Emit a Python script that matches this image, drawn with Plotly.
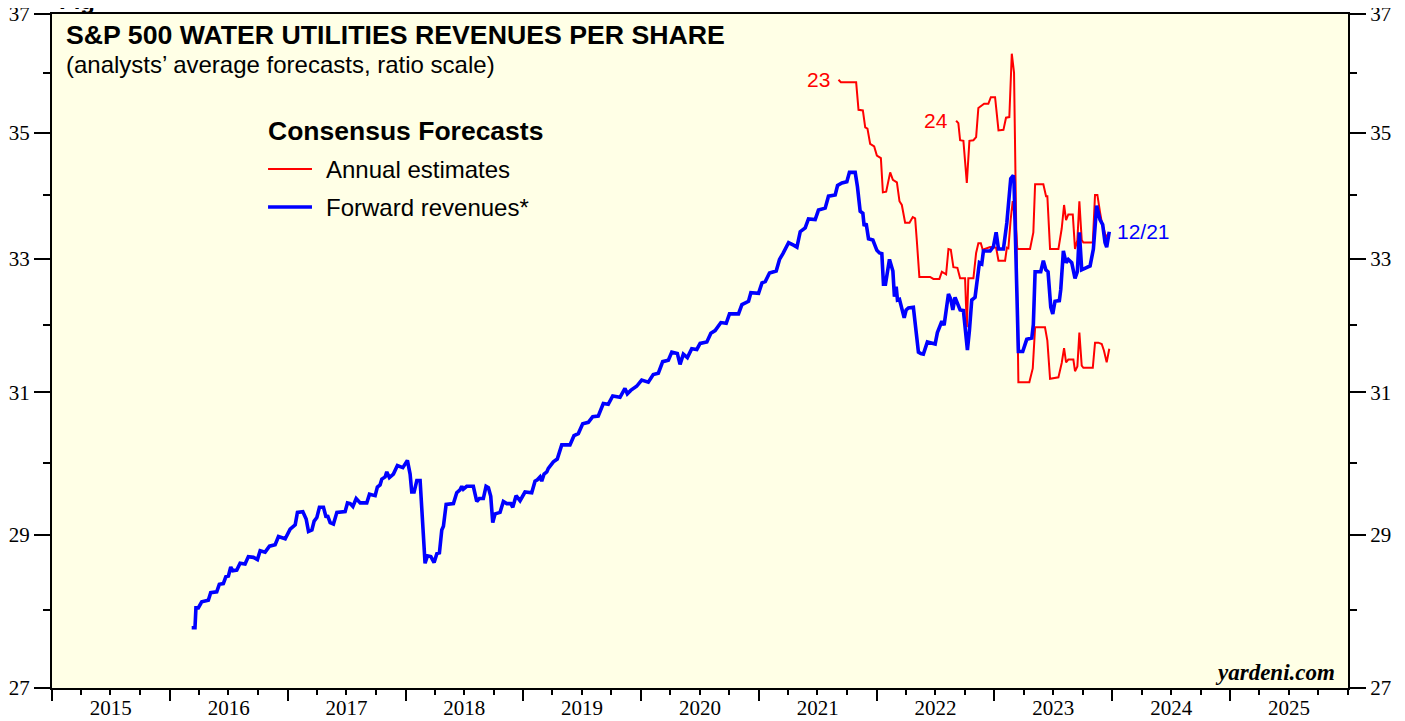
import math

import pandas as pd
import plotly.graph_objects as go

# forward revenues (blue), time in decimal years
fwd_t = [
    2016.186, 2016.214, 2016.222, 2016.242, 2016.271, 2016.327, 2016.347, 2016.398, 2016.420, 2016.454,
    2016.475, 2016.497, 2016.517, 2016.534, 2016.568, 2016.596, 2016.638, 2016.666, 2016.709, 2016.743,
    2016.766, 2016.808, 2016.845, 2016.893, 2016.921, 2016.978, 2017.020, 2017.063, 2017.082, 2017.128,
    2017.156, 2017.176, 2017.205, 2017.224, 2017.247, 2017.269, 2017.303, 2017.326, 2017.337, 2017.360,
    2017.388, 2017.417, 2017.487, 2017.507, 2017.530, 2017.553, 2017.581, 2017.615, 2017.671, 2017.694,
    2017.742, 2017.761, 2017.784, 2017.799, 2017.827, 2017.841, 2017.863, 2017.897, 2017.931, 2017.977,
    2018.016, 2018.039, 2018.053, 2018.073, 2018.096, 2018.124, 2018.166, 2018.186, 2018.215, 2018.243,
    2018.266, 2018.288, 2018.308, 2018.322, 2018.345, 2018.407, 2018.435, 2018.463, 2018.478, 2018.491,
    2018.520, 2018.576, 2018.605, 2018.627, 2018.661, 2018.684, 2018.704, 2018.724, 2018.741, 2018.761,
    2018.803, 2018.831, 2018.860, 2018.894, 2018.911, 2018.939, 2018.973, 2019.015, 2019.072, 2019.100,
    2019.120, 2019.143, 2019.157, 2019.177, 2019.200, 2019.213, 2019.256, 2019.289, 2019.327, 2019.397,
    2019.431, 2019.468, 2019.505, 2019.553, 2019.590, 2019.637, 2019.680, 2019.722, 2019.760, 2019.822,
    2019.864, 2019.884, 2019.913, 2019.963, 2020.006, 2020.062, 2020.104, 2020.147, 2020.184, 2020.232,
    2020.261, 2020.308, 2020.331, 2020.359, 2020.393, 2020.430, 2020.473, 2020.501, 2020.558, 2020.592,
    2020.628, 2020.677, 2020.722, 2020.750, 2020.826, 2020.855, 2020.911, 2020.931, 2020.996, 2021.025,
    2021.053, 2021.089, 2021.146, 2021.174, 2021.203, 2021.251, 2021.293, 2021.322, 2021.350, 2021.392,
    2021.420, 2021.477, 2021.505, 2021.562, 2021.590, 2021.647, 2021.667, 2021.704, 2021.746, 2021.768,
    2021.817, 2021.836, 2021.859, 2021.882, 2021.893, 2021.910, 2021.930, 2021.967, 2022.001, 2022.023,
    2022.043, 2022.057, 2022.074, 2022.108, 2022.137, 2022.150, 2022.165, 2022.176, 2022.193, 2022.233,
    2022.250, 2022.269, 2022.311, 2022.354, 2022.374, 2022.396, 2022.430, 2022.468, 2022.496, 2022.515,
    2022.553, 2022.572, 2022.589, 2022.609, 2022.629, 2022.646, 2022.665, 2022.708, 2022.736, 2022.750,
    2022.770, 2022.787, 2022.807, 2022.835, 2022.850, 2022.872, 2022.892, 2022.906, 2022.963, 2022.991,
    2023.014, 2023.034, 2023.076, 2023.105, 2023.138, 2023.160, 2023.166, 2023.203, 2023.240, 2023.274,
    2023.317, 2023.330, 2023.345, 2023.393, 2023.415, 2023.436, 2023.455, 2023.478, 2023.495, 2023.514,
    2023.551, 2023.563, 2023.585, 2023.608, 2023.627, 2023.656, 2023.684, 2023.704, 2023.721, 2023.741,
    2023.812, 2023.840, 2023.868, 2023.896, 2023.919, 2023.939, 2023.953, 2023.975,
]
fwd_v = [
    27.77, 27.77, 28.03, 28.03, 28.11, 28.13, 28.23, 28.24, 28.34, 28.35,
    28.44, 28.45, 28.57, 28.52, 28.53, 28.62, 28.61, 28.71, 28.70, 28.67,
    28.79, 28.77, 28.85, 28.87, 28.98, 28.95, 29.08, 29.14, 29.31, 29.32,
    29.22, 29.05, 29.07, 29.19, 29.24, 29.38, 29.38, 29.24, 29.27, 29.17,
    29.15, 29.31, 29.32, 29.44, 29.43, 29.39, 29.50, 29.44, 29.44, 29.56,
    29.54, 29.66, 29.69, 29.77, 29.80, 29.87, 29.79, 29.84, 29.96, 29.93,
    30.03, 29.84, 29.59, 29.59, 29.75, 29.75, 28.62, 28.72, 28.71, 28.63,
    28.75, 28.76, 29.07, 29.12, 29.42, 29.43, 29.58, 29.62, 29.67, 29.63,
    29.67, 29.67, 29.46, 29.50, 29.50, 29.67, 29.65, 29.53, 29.17, 29.29,
    29.31, 29.46, 29.43, 29.43, 29.38, 29.54, 29.47, 29.59, 29.58, 29.74,
    29.76, 29.80, 29.74, 29.84, 29.87, 29.92, 30.01, 30.05, 30.25, 30.25,
    30.38, 30.41, 30.55, 30.57, 30.65, 30.66, 30.84, 30.83, 30.95, 30.93,
    31.06, 30.98, 31.03, 31.09, 31.18, 31.15, 31.26, 31.28, 31.45, 31.47,
    31.59, 31.57, 31.41, 31.56, 31.51, 31.64, 31.63, 31.72, 31.74, 31.87,
    31.91, 32.03, 32.02, 32.16, 32.16, 32.30, 32.35, 32.48, 32.47, 32.63,
    32.65, 32.78, 32.81, 32.99, 33.08, 33.25, 33.21, 33.18, 33.42, 33.48,
    33.62, 33.61, 33.76, 33.79, 33.98, 34.00, 34.15, 34.19, 34.21, 34.36,
    34.36, 34.13, 33.74, 33.71, 33.51, 33.55, 33.31, 33.29, 33.13, 33.09,
    33.08, 32.61, 32.61, 32.99, 32.81, 32.42, 32.57, 32.37, 32.38, 32.10,
    32.22, 32.25, 32.26, 31.59, 31.57, 31.56, 31.74, 31.73, 31.71, 31.88,
    32.05, 31.99, 32.20, 32.46, 32.38, 32.22, 32.41, 32.22, 32.21, 32.00,
    31.62, 31.91, 32.37, 32.41, 32.68, 32.94, 32.92, 33.12, 33.12, 33.19,
    33.41, 33.15, 33.15, 33.56, 34.26, 34.31, 34.20, 31.60, 31.60, 31.78,
    31.80, 32.00, 32.80, 32.80, 32.97, 32.83, 32.80, 32.26, 32.16, 32.35,
    32.36, 32.53, 33.12, 32.94, 32.99, 32.94, 32.70, 32.80, 33.41, 32.83,
    32.89, 33.15, 33.83, 33.61, 33.53, 33.25, 33.18, 33.42,
]

# annual estimate for 2023 (red)
est23_t = [
    2021.675, 2021.695, 2021.825, 2021.845, 2021.882, 2021.902, 2021.921, 2021.944, 2021.978, 2022.001,
    2022.035, 2022.052, 2022.080, 2022.114, 2022.137, 2022.171, 2022.193, 2022.213, 2022.241, 2022.278,
    2022.306, 2022.326, 2022.340, 2022.362, 2022.453, 2022.481, 2022.532, 2022.553, 2022.589, 2022.609,
    2022.629, 2022.651, 2022.685, 2022.708, 2022.750, 2022.765, 2022.778, 2022.821, 2022.844, 2022.863,
    2022.884, 2022.900, 2022.963, 2023.014, 2023.034, 2023.090, 2023.105, 2023.118, 2023.138, 2023.155,
    2023.166, 2023.183, 2023.194, 2023.302, 2023.330, 2023.345, 2023.415, 2023.438, 2023.449, 2023.472,
    2023.543, 2023.571, 2023.591, 2023.608, 2023.627, 2023.665, 2023.684, 2023.704, 2023.721, 2023.741,
    2023.755, 2023.835, 2023.854, 2023.874, 2023.896, 2023.911, 2023.930, 2023.947, 2023.967,
]
est23_v = [
    35.88, 35.84, 35.84, 35.38, 35.37, 35.09, 35.07, 34.82, 34.78, 34.63,
    34.59, 34.04, 34.05, 34.36, 34.24, 34.20, 33.90, 33.84, 33.56, 33.56,
    33.65, 33.63, 33.29, 32.72, 32.72, 32.69, 32.69, 32.80, 32.76, 33.15,
    33.14, 32.87, 32.86, 32.70, 32.70, 31.96, 32.70, 32.70, 33.09, 33.24,
    33.24, 33.14, 33.18, 33.17, 32.97, 32.97, 33.17, 33.16, 33.62, 33.90,
    33.73, 33.45, 33.15, 33.15, 33.41, 34.17, 34.17, 33.98, 33.98, 33.15,
    33.15, 33.47, 33.84, 33.60, 33.69, 33.69, 33.15, 33.29, 33.90, 33.29,
    33.25, 33.25, 34.00, 34.00, 33.73, 33.57, 33.45, 33.33, 33.39,
]

# annual estimate for 2024 (red)
est24_t = [
    2022.674, 2022.693, 2022.708, 2022.736, 2022.765, 2022.787, 2022.821, 2022.844, 2022.863, 2022.884,
    2022.912, 2022.948, 2022.969, 2023.005, 2023.034, 2023.076, 2023.098, 2023.126, 2023.147, 2023.166,
    2023.203, 2023.296, 2023.325, 2023.345, 2023.429, 2023.449, 2023.472, 2023.543, 2023.571, 2023.591,
    2023.608, 2023.627, 2023.670, 2023.684, 2023.704, 2023.721, 2023.741, 2023.755, 2023.835, 2023.854,
    2023.882, 2023.911, 2023.930, 2023.953, 2023.975,
]
est24_v = [
    35.20, 35.16, 34.88, 34.87, 34.19, 34.87, 34.88, 34.93, 35.41, 35.44,
    35.48, 35.48, 35.59, 35.59, 35.04, 35.05, 35.25, 35.26, 36.32, 36.00,
    31.15, 31.15, 31.35, 31.96, 31.96, 31.76, 31.20, 31.22, 31.43, 31.65,
    31.44, 31.48, 31.48, 31.31, 31.38, 31.88, 31.39, 31.36, 31.36, 31.73,
    31.73, 31.71, 31.61, 31.44, 31.64,
]

years = list(range(2015, 2026))
y_major = [27, 29, 31, 33, 35, 37]
y_minor = [28, 30, 32, 34, 36]
# a hair of slack so the 27 and 37 end ticks are kept
Y_RANGE = [math.log10(27) - 1e-5, math.log10(37) + 1e-5]
X_RANGE = ["2015-01-01", "2026-01-01"]


def to_dates(vals):
    out = []
    for y in vals:
        yr = int(y)
        start = pd.Timestamp(yr, 1, 1)
        days = (pd.Timestamp(yr + 1, 1, 1) - start).days
        out.append((start + pd.Timedelta(days=round((y - yr) * days, 3))).strftime("%Y-%m-%d %H:%M"))
    return out


SANS = "Liberation Sans, Arial, sans-serif"
SERIF = "Liberation Serif, Times New Roman, serif"
RED = "#FF0000"
BLUE = "#0000FF"

fig = go.Figure()
fig.add_trace(go.Scatter(x=to_dates(est23_t), y=est23_v, mode="lines",
                         line=dict(color=RED, width=2)))
fig.add_trace(go.Scatter(x=to_dates(est24_t), y=est24_v, mode="lines",
                         line=dict(color=RED, width=2)))
fig.add_trace(go.Scatter(x=to_dates(fwd_t), y=fwd_v, mode="lines",
                         line=dict(color=BLUE, width=3.6)))

# invisible traces so the extra tick axes get drawn
for xa, ya in [("x2", "y"), ("x3", "y"), ("x", "y2"), ("x", "y3"), ("x", "y4")]:
    fig.add_trace(go.Scatter(x=[X_RANGE[0]], y=[30], xaxis=xa, yaxis=ya, mode="markers",
                             marker=dict(size=1, opacity=0)))

xbase = dict(type="date", range=X_RANGE, autorange=False, showgrid=False, zeroline=False,
             automargin=False, showline=False, tickcolor="black", tickwidth=2,
             tickfont=dict(family=SERIF, size=21, color="black"))
# year labels sit mid-year
xlab = dict(xbase, tickmode="array", tickvals=[f"{y}-07-02" for y in years],
            ticktext=[str(y) for y in years], ticks="", ticklen=0,
            showline=True, mirror=True, linecolor="black", linewidth=2)
xyear = dict(xbase, overlaying="x", tickmode="array", tickvals=[f"{y}-01-01" for y in years],
             ticktext=[""] * len(years), ticks="outside", ticklen=12, side="bottom")
xqtr = dict(xbase, overlaying="x", tick0="2015-01-01", dtick="M3",
            ticks="outside", ticklen=6, side="bottom", showticklabels=False)


def yaxis(side, vals, ticklen, labels, **extra):
    d = dict(
        type="log", range=Y_RANGE, autorange=False, side=side,
        tickmode="array", tickvals=vals,
        ticktext=[str(v) for v in vals] if labels else [""] * len(vals),
        ticks="outside", ticklen=ticklen, tickwidth=1.5, tickcolor="black",
        ticklabeloverflow="allow",
        showgrid=False, zeroline=False, automargin=False,
        showline=True, linecolor="black", linewidth=2,
        tickfont=dict(family=SERIF, size=21, color="black"),
    )
    d.update(extra)
    return d


# the page body adds an 8px offset, so the figure is 8px smaller and margins shifted
fig.update_layout(
    width=1397, height=713,
    margin=dict(l=44, r=57, t=6, b=33),
    paper_bgcolor="white", plot_bgcolor="#FFFFE6",
    showlegend=False, hovermode=False,
    xaxis=xlab, xaxis2=xyear, xaxis3=xqtr,
    yaxis=yaxis("left", y_major, 16, True),
    yaxis2=yaxis("left", y_minor, 7, False, overlaying="y"),
    yaxis3=yaxis("right", y_major, 16, True, overlaying="y"),
    yaxis4=yaxis("right", y_minor, 7, False, overlaying="y"),
)

ann = [
    dict(text="<b>Fig</b>", x=0.0039, y=0.997, xanchor="left", yanchor="bottom",
         font=dict(family=SANS, size=24, color="black")),
    dict(text="<b>S&P 500 WATER UTILITIES REVENUES PER SHARE</b>", x=0.0093, y=0.9688,
         xanchor="left", yanchor="middle", font=dict(family=SANS, size=26.7, color="black")),
    dict(text="(analysts’ average forecasts, ratio scale)", x=0.0093, y=0.9258,
         xanchor="left", yanchor="middle", font=dict(family=SANS, size=24, color="black")),
    dict(text="<b>Consensus Forecasts</b>", x=0.1652, y=0.8264,
         xanchor="left", yanchor="middle", font=dict(family=SANS, size=26.5, color="black")),
    dict(text="Annual estimates", x=0.2099, y=0.770,
         xanchor="left", yanchor="middle", font=dict(family=SANS, size=24, color="black")),
    dict(text="Forward revenues*", x=0.2099, y=0.7136,
         xanchor="left", yanchor="middle", font=dict(family=SANS, size=24, color="black")),
    dict(text="<b><i>yardeni.com</i></b>", x=0.9915, y=0.0237,
         xanchor="right", yanchor="middle", font=dict(family=SERIF, size=23, color="black")),
]
for a in ann:
    a["xref"] = "paper"
    a["yref"] = "paper"
    a["showarrow"] = False
    fig.add_annotation(**a)

# series labels at the line ends (annotation y on a log axis is log10)
fig.add_annotation(x=to_dates(est23_t[:1])[0], y=math.log10(est23_v[0]), xref="x", yref="y",
                   text="23", showarrow=False, xanchor="right", xshift=-6,
                   font=dict(family=SANS, size=21, color=RED))
fig.add_annotation(x=to_dates(est24_t[:1])[0], y=math.log10(est24_v[0]), xref="x", yref="y",
                   text="24", showarrow=False, xanchor="right", xshift=-6,
                   font=dict(family=SANS, size=21, color=RED))
fig.add_annotation(x=to_dates(fwd_t[-1:])[0], y=math.log10(fwd_v[-1]), xref="x", yref="y",
                   text="12/21", showarrow=False, xanchor="left", xshift=6,
                   font=dict(family=SANS, size=21, color=BLUE))

# legend line samples
fig.add_shape(type="line", xref="paper", yref="paper", x0=0.1667, x1=0.2006, y0=0.770, y1=0.770,
              line=dict(color=RED, width=2))
fig.add_shape(type="line", xref="paper", yref="paper", x0=0.1667, x1=0.2006, y0=0.7136, y1=0.7136,
              line=dict(color=BLUE, width=3.6))

fig.write_html("out.html")
